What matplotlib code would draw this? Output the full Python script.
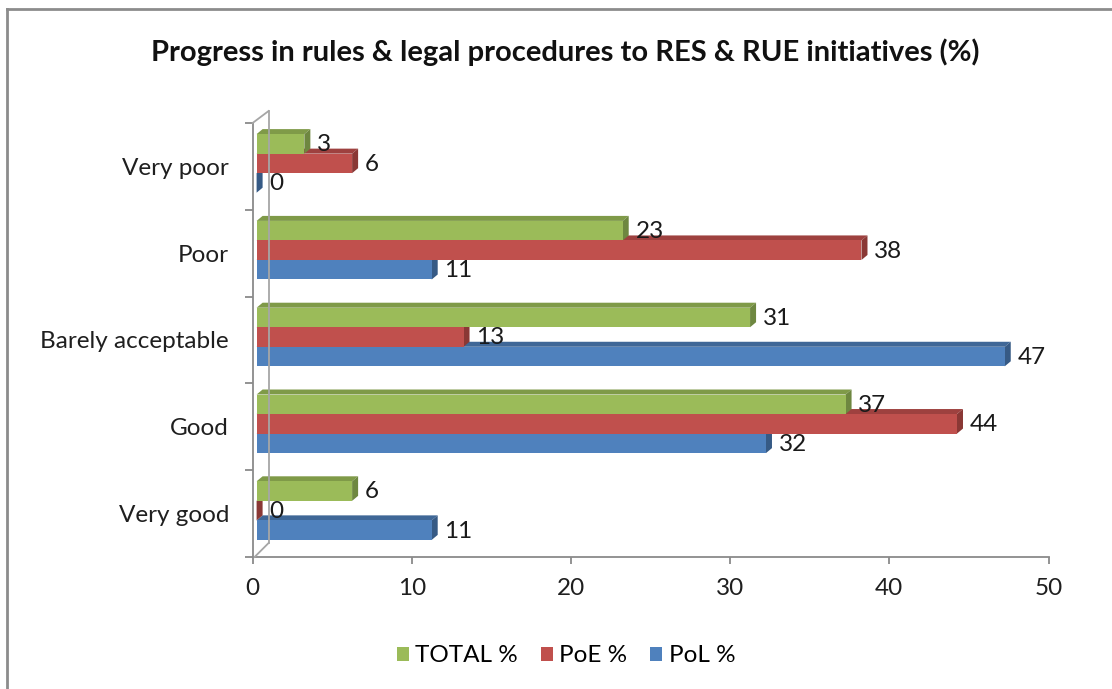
import matplotlib
matplotlib.use("Agg")
import matplotlib.pyplot as plt
from matplotlib.patches import Polygon, Rectangle
from matplotlib.lines import Line2D
from matplotlib.transforms import Affine2D, IdentityTransform
import numpy as np

# ---- data ----
categories = ["Very poor", "Poor", "Barely acceptable", "Good", "Very good"]
series_names = ["TOTAL %", "PoE %", "PoL %"]
total_vals = [3, 23, 31, 37, 6]
poe_vals = [6, 38, 13, 44, 0]
pol_vals = [0, 11, 47, 32, 11]
x_ticks = [0, 10, 20, 30, 40, 50]

front_colors = ["#9BBB59", "#C0504D", "#4F81BD"]
top_colors = ["#7F9A48", "#9E413F", "#3F6797"]
side_colors = ["#6E8740", "#8A3835", "#365A85"]

plt.rcParams["font.family"] = ["Lato", "DejaVu Sans"]

W, H = 1112, 689
fig = plt.figure(figsize=(W / 100, H / 100), dpi=100)

# plot area in pixels (left, top, right, bottom)
px_l, px_t, px_r, px_b = 252.6, 123, 1048.5, 557
ax = fig.add_axes([px_l / W, 1 - px_b / H, (px_r - px_l) / W, (px_b - px_t) / H])
ax.set_xlim(0, 50)
ax.set_ylim(len(categories) - 0.5, -0.5)
ax.set_autoscale_on(False)
ax.patch.set_visible(False)

axis_gray = "#8A8A8A"
txt_size = 17.5
for s in ["top", "right"]:
    ax.spines[s].set_visible(False)
for s in ["left", "bottom"]:
    ax.spines[s].set_color(axis_gray)
    ax.spines[s].set_linewidth(1.3)

ax.set_xticks(x_ticks)
ax.set_xticklabels([str(t) for t in x_ticks])
ax.tick_params(axis="x", direction="out", length=5, width=1.3, color=axis_gray,
               labelsize=txt_size, labelcolor="#1F1F1F", pad=10)
ax.set_yticks(np.arange(len(categories)))
ax.set_yticklabels(categories)
ax.set_yticks(np.arange(len(categories) + 1) - 0.5, minor=True)
ax.tick_params(axis="y", which="major", length=0, labelsize=txt_size,
               labelcolor="#1F1F1F", pad=17)
ax.tick_params(axis="y", which="minor", direction="out", length=6, width=1.3,
               color=axis_gray)

# back wall of the 3-D frame
depth_dx, depth_dy = 16, 12
def fig_px(x, y):
    return (x / W, 1 - y / H)
wall = [
    [fig_px(px_l, px_t), fig_px(px_l + depth_dx, px_t - depth_dy)],
    [fig_px(px_l + depth_dx, px_t - depth_dy), fig_px(px_l + depth_dx, px_b - 14)],
    [fig_px(px_l + depth_dx, px_b - 14), fig_px(px_l + 2, px_b)],
]
for seg in wall:
    (x0, y0), (x1, y1) = seg
    fig.add_artist(Line2D([x0, x1], [y0, y1], color="#A6A6A6", lw=1.3,
                          transform=fig.transFigure, zorder=1))

# ---- bars with a 3-D look ----
bar_h = 0.225
offsets = [-bar_h, 0.0, bar_h]
values = [total_vals, poe_vals, pol_vals]
shift_x, shift_y = 4, 3
shift = Affine2D().translate(shift_x, shift_y)
bar_dx, bar_dy = 6, 5
y_pos = np.arange(len(categories))

# draw bottom series first so upper bars cover the top faces below them
for k in [2, 1, 0]:
    vals = values[k]
    ypos = y_pos + offsets[k]
    z = 3 + (2 - k)
    ax.barh(ypos, vals, height=bar_h, left=0, color=front_colors[k],
            edgecolor="none", transform=ax.transData + shift, zorder=z + 0.5)
    for yc, v in zip(ypos, vals):
        (x0, ytop), = ax.transData.transform([(0, yc - bar_h / 2)])
        (x1, ybot), = ax.transData.transform([(v, yc + bar_h / 2)])
        x0 += shift_x; x1 += shift_x; ytop += shift_y; ybot += shift_y
        top = Polygon([(x0, ytop), (x1, ytop), (x1 + bar_dx, ytop + bar_dy),
                       (x0 + bar_dx, ytop + bar_dy)], closed=True,
                      facecolor=top_colors[k], edgecolor="none",
                      transform=IdentityTransform(), zorder=z, clip_on=False)
        side = Polygon([(x1, ybot), (x1, ytop), (x1 + bar_dx, ytop + bar_dy),
                        (x1 + bar_dx, ybot + bar_dy)], closed=True,
                       facecolor=side_colors[k], edgecolor="none",
                       transform=IdentityTransform(), zorder=z, clip_on=False)
        ax.add_artist(top)
        ax.add_artist(side)
        ax.annotate(str(v), xy=(v, yc), xytext=(12, 1.5),
                    textcoords="offset points", ha="left", va="center",
                    fontsize=txt_size, color="#1A1A1A", zorder=10,
                    annotation_clip=False)

# ---- title ----
fig.text(565 / W, 1 - 52 / H,
         "Progress in rules & legal procedures to RES & RUE initiatives (%)",
         ha="center", va="center", fontsize=21, fontweight="bold",
         color="#111111")

# ---- legend ----
handles = [Rectangle((0, 0), 1, 1, facecolor=c, edgecolor="none")
           for c in front_colors]
fig.legend(handles, series_names, loc="center", bbox_to_anchor=(566 / W, 1 - 656 / H),
           ncol=3, frameon=False, fontsize=txt_size, handlelength=0.5,
           handleheight=0.5, handletextpad=0.25, columnspacing=0.95)

# chart frame (left and top edges)
fig.add_artist(Line2D([7 / W, 7 / W], [0, 1 - 9 / H], color="#8C8C8C", lw=2,
                      transform=fig.transFigure))
fig.add_artist(Line2D([7 / W, 1], [1 - 9 / H, 1 - 9 / H], color="#8C8C8C", lw=2,
                      transform=fig.transFigure))

fig.savefig("out.png", dpi=100)
